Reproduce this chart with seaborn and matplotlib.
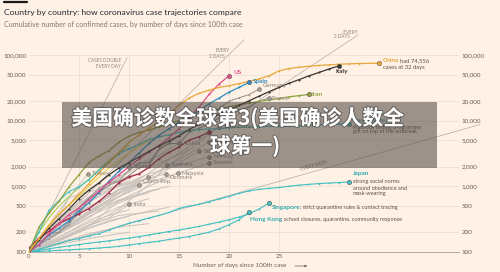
import numpy as np
import pandas as pd
import seaborn as sns
import matplotlib.pyplot as plt
import matplotlib.ticker as ticker
import matplotlib.patheffects as pe
from matplotlib.patches import Rectangle

# ---- data: days since 100th case -> cumulative cases ----
china_cases = [100, 160, 250, 380, 520, 750, 1100, 1600, 2300, 3300, 4700, 6000,
               7700, 9500, 12000, 17000, 22000, 26000, 29000, 32000, 34000, 36500,
               39500, 43000, 48000, 57000, 62000, 65000, 67000, 69000, 70500, 72000,
               73000, 73800, 74300, 74556]
italy_cases = [100, 150, 230, 320, 450, 650, 880, 1130, 1500, 1900, 2300, 2800, 3400,
               4100, 4900, 5900, 7300, 8800, 10500, 12500, 14500, 17000, 20000, 23500,
               27500, 32000, 37000, 42000, 48000, 54000, 61000, 68000]
us_cases = [100, 130, 190, 270, 370, 470, 620, 850, 1150, 1500, 2000, 2600, 3300, 4200,
            5500, 7500, 11000, 16000, 25000, 36000, 48000]
spain_cases = [100, 130, 180, 230, 300, 420, 560, 800, 1200, 1700, 2300, 3200, 4500,
               6000, 7500, 9500, 11500, 14000, 18000, 22000, 27000, 32000, 38000]
germany_cases = [100, 130, 160, 200, 260, 480, 670, 800, 1040, 1180, 1460, 1910, 2080,
                 3680, 4590, 5800, 7270, 9260, 12300, 15300, 19800, 22200, 24900, 30000]
france_cases = [100, 130, 190, 200, 285, 380, 650, 950, 1130, 1210, 1780, 2280, 2280,
                3660, 4470, 4500, 6630, 7650, 9040, 10900, 12600, 14500, 16000, 19900, 22000]
iran_cases = [100, 240, 390, 590, 980, 1500, 2300, 2900, 3500, 4700, 5800, 6600, 7200,
              8000, 9000, 10000, 11400, 12700, 13900, 15000, 16200, 17400, 18400, 19600,
              20600, 21600, 23000, 24000, 25000]
uk_cases = [115, 163, 206, 273, 321, 382, 456, 590, 798, 1140, 1391, 1543, 1950, 2626,
            3269, 3983, 5018, 5683, 6650]
korea_cases = [104, 204, 433, 602, 833, 977, 1261, 1766, 2337, 3150, 3736, 4335, 5186,
               5621, 6088, 6593, 7041, 7314, 7478, 7513, 7755, 7869, 7979, 8086, 8162,
               8236, 8320, 8413, 8565, 8652, 8799, 8897, 8961]
japan_cases = [100, 110, 122, 135, 150, 160, 175, 190, 215, 245, 275, 300, 330, 360, 400,
               460, 500, 530, 580, 640, 700, 780, 850, 900, 930, 960, 1000, 1040, 1070,
               1100, 1120, 1140, 1160]
singapore_cases = [100, 106, 112, 118, 124, 130, 136, 142, 148, 155, 163, 172, 182, 193,
                   205, 216, 230, 245, 265, 285, 310, 340, 380, 450, 557]
hongkong_cases = [100, 102, 104, 106, 108, 110, 112, 115, 118, 122, 128, 134, 140, 146,
                  155, 163, 172, 185, 200, 225, 260, 310, 405]
yellow_days = [0, 1, 2, 3, 4, 5, 6, 8, 10, 12]
yellow_cases = [100, 160, 260, 380, 520, 700, 1000, 1900, 3200, 5000]
green_days = [0, 1, 2, 3, 4, 6, 8, 10]
green_cases = [100, 200, 330, 500, 700, 1300, 2500, 4200]

other_names = ['Switzerland', 'Netherlands', 'Belgium', 'Austria', 'Norway', 'Sweden',
               'Australia', 'Malaysia', 'Denmark', 'Israel', 'Czech Rep.', 'Brazil',
               'Turkey', 'India']
other_days = [[0, 3, 6, 9, 12, 15, 18, 19], [0, 3, 6, 9, 12, 15, 18],
              [0, 3, 6, 9, 12, 15, 17], [0, 3, 6, 9, 12, 15],
              [0, 3, 6, 9, 12, 15, 18], [0, 3, 6, 9, 12, 15, 18],
              [0, 3, 6, 9, 12, 13.8], [0, 3, 6, 9, 12, 14.9],
              [0, 2, 4, 6, 9, 12, 13.7], [0, 3, 6, 9, 11.9], [0, 3, 6, 9, 11],
              [0, 2, 4, 6, 8, 10], [0, 2, 4, 5.9], [0, 2, 4, 6, 8, 10]]
other_cases = [[100, 260, 480, 870, 1360, 2700, 6100, 8000],
               [100, 260, 500, 800, 1400, 2500, 4800],
               [100, 230, 400, 690, 1240, 2260, 3400],
               [100, 250, 650, 1330, 2400, 4500],
               [100, 250, 600, 1000, 1550, 2100, 2800],
               [100, 220, 480, 900, 1150, 1600, 2270],
               [100, 150, 250, 450, 1070, 2110],
               [100, 150, 250, 600, 1000, 1590],
               [100, 260, 670, 830, 1000, 1340, 1540],
               [100, 190, 330, 700, 1380],
               [100, 190, 380, 770, 1050],
               [100, 200, 330, 620, 1180, 1970],
               [100, 190, 670, 1550],
               [100, 130, 170, 250, 330, 530]]
other_label_off = [(4, 0), (4, 0), (4, 0), (4, 0), (4, 0), (4, 0), (4, 0), (4, 0),
                   (4, 4), None, (4, -3), (4, 0), (4, 0), (4, 0)]

gray_days = [[0, 2, 4, 6, 8], [0, 2, 4, 6, 9], [0, 3, 6, 9, 11], [0, 3, 6, 9, 12],
             [0, 3, 6, 9, 12], [0, 3, 6, 9, 13], [0, 3, 6, 9, 10], [0, 3, 6, 9, 10],
             [0, 3, 6, 9, 12], [0, 2, 4, 6, 7], [0, 2, 4, 5], [0, 3, 6, 9, 11, 13],
             [0, 2, 5, 8, 10], [0, 3, 6, 8], [0, 3, 6, 9, 12, 14], [0, 3, 6, 9, 11],
             [0, 3, 6, 8, 10], [0, 4, 8, 12, 14], [0, 4, 8, 11], [0, 3, 6, 9, 12, 15],
             [0, 3, 6, 9, 12, 16]]
gray_cases = [[100, 210, 420, 800, 1500], [100, 180, 350, 650, 1300],
              [100, 230, 480, 900, 1300], [100, 200, 380, 600, 800],
              [100, 170, 300, 480, 650], [100, 160, 260, 360, 420],
              [100, 150, 230, 320, 350], [100, 130, 160, 190, 200],
              [100, 140, 190, 240, 270], [100, 190, 360, 650, 800],
              [100, 230, 520, 800], [100, 200, 380, 620, 760, 900],
              [100, 240, 560, 900, 1200], [100, 260, 650, 1000],
              [100, 190, 350, 560, 850, 1000], [100, 210, 420, 700, 950],
              [100, 170, 280, 360, 440], [100, 180, 300, 420, 480],
              [100, 250, 700, 1100], [100, 280, 700, 1400, 2600, 3800],
              [100, 250, 560, 1100, 1900, 3600]]

# doubling guide lines: start (0, 100), end point
guide_ends_day = [9.8, 21.5, 32.9, 45.1]
guide_ends_cases = [90000, 170000, 200000, 8700]

yticks = [100, 200, 500, 1000, 2000, 5000, 10000, 20000, 50000, 100000]
xticks = [0, 5, 10, 15, 20, 25]

# ---- style ----
bg = '#FFF1E5'
grid = '#E9DCD1'
txt = '#66605C'
note = '#59534F'
c_china, c_italy, c_us, c_spain = '#E8A83C', '#3A3432', '#E0508B', '#2E8CC0'
c_iran, c_uk, c_teal, c_teal_txt = '#8DA23F', '#A3284C', '#3FC0C2', '#2FAAB0'
c_gray, c_gray_dk = '#C9C2BD', '#958E89'

sns.set_theme(style='white')
plt.rcParams['font.family'] = ['Lato', 'DejaVu Sans']

W, H = 500, 272
fig = plt.figure(figsize=(W / 100, H / 100), dpi=100)
fig.patch.set_facecolor(bg)
ax = fig.add_axes([29 / W, 1 - 252 / H, 430 / W, (252 - 32.5) / H])
ax.set_facecolor(bg)
renderer = fig.canvas.get_renderer()


def ftext(px, py, s, **kw):
    kw.setdefault('va', 'center')
    return fig.text(px / W, 1 - py / H, s, **kw)


def after(t, s, gap=1.0, **kw):
    # place a text piece right after another one on the same line
    bb = t.get_window_extent(renderer)
    x, y = t.get_position()
    return fig.text((bb.x1 + gap) / W, y, s, va='center', **kw)


def line(days, cases, color, lw=0.8, ms=0, z=3):
    sns.lineplot(x=days, y=cases, color=color, lw=lw, ax=ax, zorder=z,
                 marker='o' if ms else None, markersize=ms, markeredgewidth=0,
                 estimator=None, sort=False)


ax.set_yscale('log')

# grid
for v in yticks:
    ax.axhline(v, color=grid, lw=0.5, zorder=0)
ax.vlines([5, 10, 15, 20, 25], 100, 100000, color=grid, lw=0.5, zorder=0)

# guide lines
for d, c in zip(guide_ends_day, guide_ends_cases):
    ax.plot([0, d], [100, c], color='#B3ABA6', lw=0.5, zorder=1, clip_on=False)

# background countries
for d, c in zip(gray_days, gray_cases):
    line(d, c, c_gray, lw=0.7, z=2)
for name, d, c in zip(other_names, other_days, other_cases):
    line(d, c, c_gray, lw=0.7, z=2)
    ax.scatter(d[-1], c[-1], s=7, color='#A9A29D', edgecolor='#6F6964', lw=0.5, zorder=4)

line(list(range(24)), germany_cases, c_gray_dk, lw=0.7, ms=1.2, z=2.5)
line(list(range(25)), france_cases, c_gray_dk, lw=0.7, ms=1.2, z=2.5)
ax.scatter([23, 24], [germany_cases[-1], france_cases[-1]], s=7, color='#A9A29D',
           edgecolor='#6F6964', lw=0.5, zorder=4)

# highlighted countries
line(yellow_days, yellow_cases, '#E4D54C', lw=0.8)
line(green_days, green_cases, '#A7CF5A', lw=0.8)
line(list(range(33)), korea_cases, c_teal, lw=0.8, ms=1.2)
line(list(range(33)), japan_cases, c_teal, lw=0.8, ms=1.2)
line(list(range(25)), singapore_cases, c_teal, lw=0.8, ms=1.2)
line(list(range(23)), hongkong_cases, c_teal, lw=0.8, ms=1.2)
line(list(range(19)), uk_cases, c_uk, lw=0.9, ms=1.5)
line(list(range(29)), iran_cases, c_iran, lw=0.9, ms=1.2)
line(list(range(23)), spain_cases, c_spain, lw=0.9, ms=1.5)
line(list(range(21)), us_cases, c_us, lw=0.9, ms=1.5)
line(list(range(32)), italy_cases, c_italy, lw=0.9, ms=1.5)
line(list(range(36)), china_cases, c_china, lw=0.9, ms=1.2)

ends = [(35, china_cases[-1], c_china), (31, italy_cases[-1], c_italy),
        (20, us_cases[-1], c_us), (22, spain_cases[-1], c_spain),
        (28, iran_cases[-1], c_iran), (32, japan_cases[-1], c_teal),
        (24, singapore_cases[-1], c_teal), (22, hongkong_cases[-1], c_teal),
        (32, korea_cases[-1], c_teal), (18, uk_cases[-1], c_uk)]
for x, y, c in ends:
    ax.scatter(x, y, s=10, color=c, edgecolor='#5E5853', lw=0.4, zorder=5)

# axes
ax.set_xlim(0, 43)
ax.set_ylim(100, 219000)
ax.set_yticks(yticks)
ax.set_yticklabels([f'{v:,}' for v in yticks])
ax.yaxis.set_minor_locator(ticker.NullLocator())
ax.set_xticks(xticks)
ax.set_xlabel('')
ax.set_ylabel('')
ax.tick_params(axis='y', length=0, labelleft=True, labelright=True, labelsize=4.5,
               labelcolor=txt, pad=2)
ax.tick_params(axis='x', length=0, labelsize=4.5, labelcolor=txt, pad=1.5)
for s in ['top', 'left', 'right']:
    ax.spines[s].set_visible(False)
ax.spines['bottom'].set_color('#A8A09A')
ax.spines['bottom'].set_linewidth(0.6)

# titles
fig.add_artist(plt.Line2D([4 / W, 27 / W], [1 - 2 / H, 1 - 2 / H], color='#1A1A1A',
                          lw=1.6, transform=fig.transFigure))
ftext(4, 12, 'Country by country: how coronavirus case trajectories compare',
      fontsize=6.1, color='#262A33')
ftext(4, 24, 'Cumulative number of confirmed cases, by number of days since 100th case',
      fontsize=5.1, color='#7F7974')
ftext(193, 266, 'Number of days since 100th case', fontsize=4.6, color=txt)
ax.annotate('', xy=(310 / W, 1 - 266 / H), xytext=(292 / W, 1 - 266 / H),
            xycoords='figure fraction',
            arrowprops=dict(arrowstyle='-|>', color=txt, lw=0.5, mutation_scale=3))

# guide labels
gk = dict(fontsize=3.3, color='#8C8580', ha='right')
ftext(121, 60, 'CASES DOUBLE', **gk)
ftext(121, 66, 'EVERY DAY', **gk)
ftext(230, 50, 'EVERY', **gk)
ftext(225, 57, '2 DAYS', **gk)
ftext(358, 32, '...EVERY', **gk)
ftext(350, 37, '3 DAYS', **gk)
ftext(314, 166, 'EVERY WEEK', fontsize=3.3, color='#8C8580', ha='center',
      rotation=16)

# country labels
lk = dict(fontsize=4.6, fontweight='bold')
ftext(233, 72, 'US', color=c_us, **lk)
ftext(253, 81, 'Spain', color=c_spain, **lk)
ftext(263, 86, 'Germany', fontsize=4.4, color='#8C8580')
ftext(272, 98, 'France', fontsize=4.4, color='#8C8580')
ftext(312, 94, 'Iran', color=c_iran, **lk)
ftext(335, 72, 'Italy', color=c_italy, **lk)
t = ftext(383, 61, 'China', color=c_china, **lk)
after(t, 'had 74,556', gap=0.5, fontsize=4.2, color=note)
ftext(383, 67, 'cases at 32 days', fontsize=4.2, color=note)
ftext(353, 121, 'South Korea', color=c_teal_txt, **lk)
ftext(353, 127, 'Rigorous testing programme', fontsize=4.0, color=note)
ftext(353, 132, 'got on top of the outbreak', fontsize=4.0, color=note)
ftext(353, 174, 'Japan', color=c_teal_txt, **lk)
ftext(353, 181, 'strong social norms', fontsize=4.0, color=note)
ftext(353, 188, 'around obedience and', fontsize=4.0, color=note)
ftext(353, 194, 'mask-wearing', fontsize=4.0, color=note)
t = ftext(272, 207, 'Singapore', color=c_teal_txt, **lk)
after(t, ': strict quarantine rules & contact tracing', gap=-1.0, fontsize=4.0, color=note)
t = ftext(250, 220, 'Hong Kong', color=c_teal_txt, **lk)
after(t, ': school closures, quarantine, community response', gap=-1.0, fontsize=4.0,
      color=note)

for name, d, c, off in zip(other_names, other_days, other_cases, other_label_off):
    if off is None:
        continue
    px, py = ax.transData.transform((d[-1], c[-1]))
    ftext(px + off[0], H - py + off[1], name, fontsize=4.2, color='#8C8580')

# overlay banner
fig.add_artist(Rectangle((62 / W, 1 - 168 / H), 375 / W, 66 / H, transform=fig.transFigure,
                         facecolor=(0.30, 0.27, 0.25), alpha=0.55, lw=0, zorder=10))
bk = dict(ha='center', fontsize=15, color='white', fontweight='bold', zorder=11,
          family=['Noto Sans CJK SC', 'DejaVu Sans'],
          path_effects=[pe.withStroke(linewidth=1.5, foreground=(0.2, 0.2, 0.2, 0.5))])
ftext(238, 118, '美国确诊数全球第3(美国确诊人数全', **bk)
ftext(245, 146, '球第一)', **bk)

plt.savefig('out.png', dpi=100, facecolor=bg)
